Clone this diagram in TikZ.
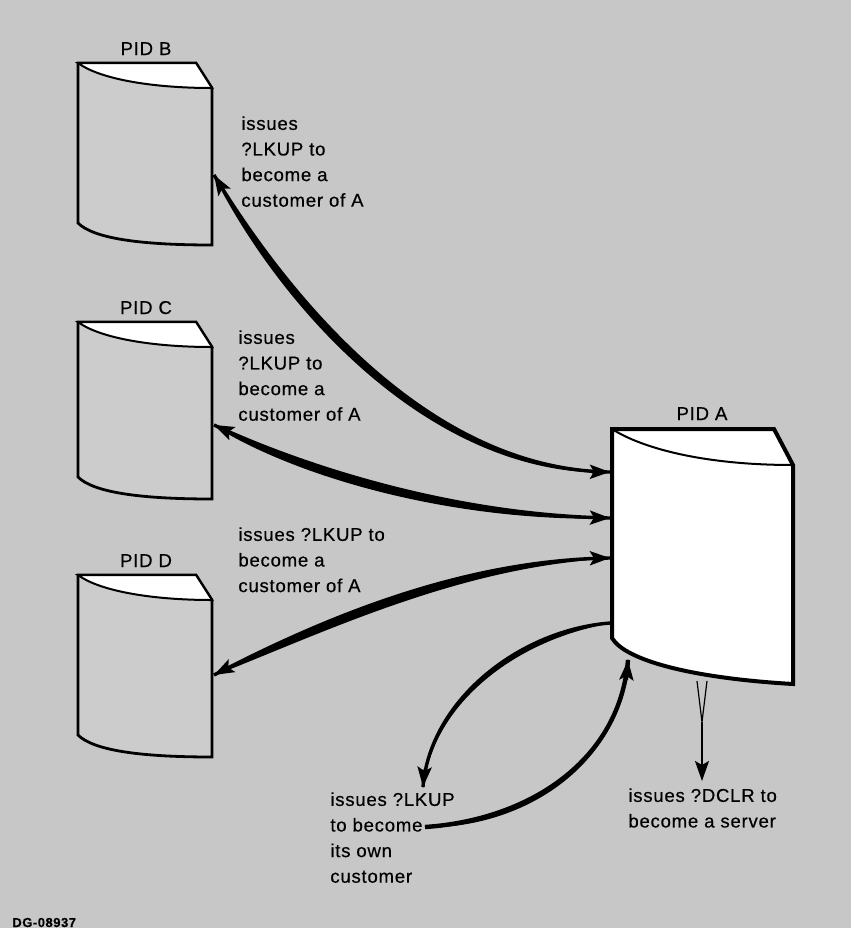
\documentclass[tikz,border=0pt]{standalone}
\usepackage{fontspec}
\setmainfont{Liberation Sans}[LetterSpace=4, FakeBold=0.4]
\usetikzlibrary{arrows.meta, calc}

\definecolor{paper}{gray}{0.78}
\definecolor{bodygray}{gray}{0.8}

\begin{document}
\begin{tikzpicture}[
    x=0.5pt, y=-0.5pt, % one unit = one pixel of the original, y downwards
    >={Stealth[length=10pt, width=7pt, inset=2pt]}, % arrow tip for all connectors
    smallpid/.style={draw=black, line width=1.4pt, fill=bodygray},
    bigpid/.style={draw=black, line width=2pt, fill=white},
    pidname/.style={font=\fontsize{9.3}{11}\selectfont, inner sep=0pt, anchor=base},
    remark/.style={font=\fontsize{9.3}{12.8}\selectfont, align=left, anchor=north west, inner sep=0pt},
    link/.style={line width=1.7pt},
    swell/.style={fill=black, draw=black, line width=0.6pt, line join=round}
]

% Background
\useasboundingbox (0,0) rectangle (851,928);
\fill[paper] (0,0) rectangle (851,928);

% Small processes B, C and D
\foreach \pid/\ytop/\ht in {B/63/182, C/322/177, D/575/182}{
    \begin{scope}[shift={(78,\ytop)}]
        \draw[smallpid] (0,0) -- (118,0) -- (134,25) -- (134,\ht)
            .. controls (60,\ht) and (15,\ht-7) .. (0,\ht-22) -- cycle;
        \filldraw[fill=white, line width=1pt] (0,0) -- (118,0) -- (134,25)
            .. controls (70,25) and (20,15) .. (0,0) -- cycle;
    \end{scope}
    \node[pidname] (pid\pid) at (146,\ytop-8) {PID \pid};
}

% Process A
\begin{scope}[shift={(612,429)}]
    \draw[bigpid] (0,0) -- (162,0) -- (181,36) -- (181,255)
        .. controls (78,249) and (13,231) .. (0,209) -- cycle;
    \draw[line width=1pt] (0,0) .. controls (28,18) and (88,36) .. (181,36);
\end{scope}
\node[pidname] (pidA) at (702,420) {PID A};

% Texts
\node[remark] (askB) at (241,116) {issues\\?LKUP to\\become a\\customer of A};
\node[remark] (askC) at (238,330) {issues\\?LKUP to\\become a\\customer of A};
\node[remark] (askD) at (238,527) {issues ?LKUP to\\become a\\customer of A};
\node[remark] (askA) at (330,792) {issues ?LKUP\\to become\\its own\\customer};
\node[remark] (dclr) at (628,788) {issues ?DCLR to\\become a server};
\node[font=\bfseries\fontsize{6.5}{8}\selectfont, anchor=base west, inner sep=0pt] (dgno) at (12,927) {DG-08937};

% Connector ends
\coordinate (portB) at (214,175);
\coordinate (portC) at (214,425);
\coordinate (portD) at (214,675);
\coordinate (inB) at (610,472);
\coordinate (inC) at (610,518);
\coordinate (inD) at (610,558);
\coordinate (outA) at (610,623);
\coordinate (selfTip) at (423,787);
\coordinate (selfEnd) at (425,827);
\coordinate (backA) at (628,660);
\coordinate (footA) at (702,722);
\coordinate (dclrTip) at (702,781);

% B, C, D <-> A (curve, swelling, then the two tips)
\fill[swell] (portB) .. controls (290,300) and (430,470) .. (inB)
    .. controls (430,476) and (280,306) .. (portB);
\draw[link] (portB) .. controls (290,300) and (430,470) .. (inB);
\draw[link, ->] ($(portB)!0.1!(290,300)$) -- (portB);
\draw[link, ->] ($(inB)!0.1!(430,470)$) -- (inB);

\fill[swell] (portC) .. controls (300,465) and (450,515) .. (inC)
    .. controls (450,521) and (295,476) .. (portC);
\draw[link] (portC) .. controls (300,465) and (450,515) .. (inC);
\draw[link, ->] ($(portC)!0.1!(300,465)$) -- (portC);
\draw[link, ->] ($(inC)!0.1!(450,515)$) -- (inC);

\fill[swell] (portD) .. controls (320,620) and (460,560) .. (inD)
    .. controls (460,566) and (326,631) .. (portD);
\draw[link] (portD) .. controls (320,620) and (460,560) .. (inD);
\draw[link, ->] ($(portD)!0.1!(320,620)$) -- (portD);
\draw[link, ->] ($(inD)!0.1!(460,560)$) -- (inD);

% A to itself
\fill[swell] (outA) .. controls (520,630) and (430,700) .. (selfTip)
    .. controls (433,700) and (520,638) .. (outA);
\draw[link] (outA) .. controls (520,630) and (430,700) .. (selfTip);
\draw[link, ->] ($(selfTip)!0.2!(430,700)$) -- (selfTip);
\fill[swell] (selfEnd) .. controls (530,820) and (620,760) .. (backA)
    .. controls (622,760) and (530,827) .. (selfEnd);
\draw[line width=2.2pt] (selfEnd) .. controls (530,820) and (620,760) .. (backA);
\draw[link, ->] ($(backA)!0.2!(620,760)$) -- (backA);

% A declares itself a server
\filldraw[fill=paper, line width=0.6pt] (697,681) -- (footA) -- (707,681);
\draw[line width=1pt, ->] (footA) -- (dclrTip);

\end{tikzpicture}
\end{document}
